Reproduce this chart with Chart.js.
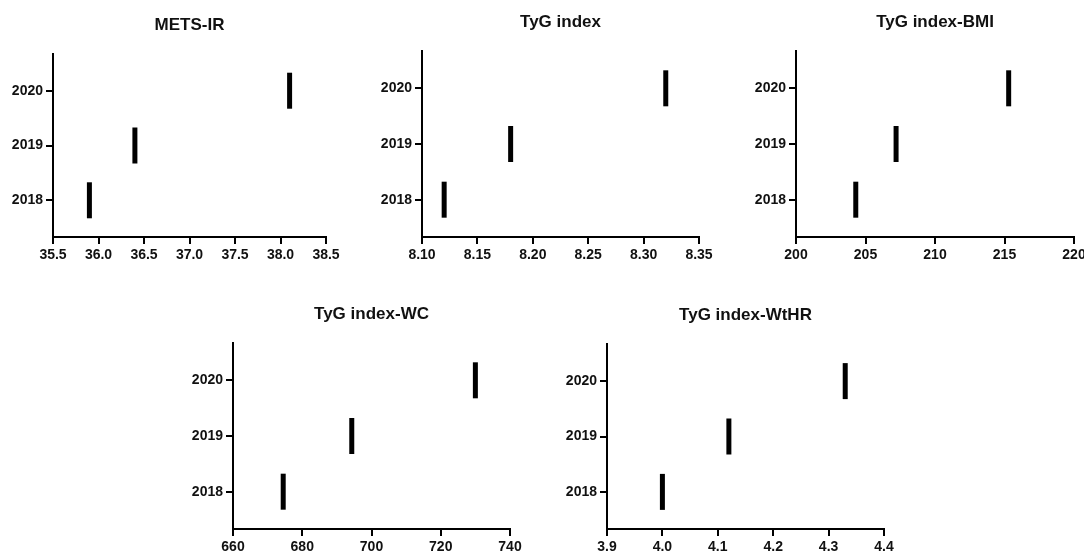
<!DOCTYPE html>
<html>
<head>
<meta charset="utf-8">
<script src="https://cdn.jsdelivr.net/npm/chart.js@4"></script>
<style>
  html, body { margin: 0; padding: 0; background: #fff; }
  body { width: 1084px; height: 554px; position: relative; overflow: hidden; }
  canvas { position: absolute; }
</style>
</head>
<body>
<canvas id="c1"></canvas>
<canvas id="c2"></canvas>
<canvas id="c3"></canvas>
<canvas id="c4"></canvas>
<canvas id="c5"></canvas>
<script>
// data
const years = [2018, 2019, 2020];

const metsIR = [35.9, 36.4, 38.1];
const tygIndex = [8.12, 8.18, 8.32];
const tygBMI = [204.3, 207.2, 215.3];
const tygWC = [674.5, 694.3, 730];
const tygWtHR = [4.0, 4.12, 4.33];

const metsIRTicks = [35.5, 36.0, 36.5, 37.0, 37.5, 38.0, 38.5];
const tygIndexTicks = [8.10, 8.15, 8.20, 8.25, 8.30, 8.35];
const tygBMITicks = [200, 205, 210, 215, 220];
const tygWCTicks = [660, 680, 700, 720, 740];
const tygWtHRTicks = [3.9, 4.0, 4.1, 4.2, 4.3, 4.4];

// axis box of each panel: left, right, top, bottom (page px)
const panels = [
  { id: 'c1', title: 'METS-IR', values: metsIR, ticks: metsIRTicks, dec: 1, box: [53, 326, 54, 237] },
  { id: 'c2', title: 'TyG index', values: tygIndex, ticks: tygIndexTicks, dec: 2, box: [422, 699, 51, 237] },
  { id: 'c3', title: 'TyG index-BMI', values: tygBMI, ticks: tygBMITicks, dec: 0, box: [796, 1074, 51, 237] },
  { id: 'c4', title: 'TyG index-WC', values: tygWC, ticks: tygWCTicks, dec: 0, box: [233, 510, 343, 529] },
  { id: 'c5', title: 'TyG index-WtHR', values: tygWtHR, ticks: tygWtHRTicks, dec: 1, box: [607, 884, 344, 529] },
];

const FONT = '"Liberation Sans", Arial, Helvetica, sans-serif';
const YW = 55, XH = 30, TOP = 55, RIGHT = 30;

const panelTitle = {
  id: 'panelTitle',
  afterDraw(chart, args, opts) {
    const { ctx, chartArea } = chart;
    ctx.save();
    ctx.font = 'bold 17px ' + FONT;
    ctx.fillStyle = '#111';
    ctx.textAlign = 'center';
    ctx.textBaseline = 'middle';
    ctx.fillText(opts.text, (chartArea.left + chartArea.right) / 2, chartArea.top - 29);
    ctx.restore();
  }
};

panels.forEach(p => {
  const [l, r, t, b] = p.box;
  const canvas = document.getElementById(p.id);
  canvas.width = (r - l) + YW + RIGHT;
  canvas.height = (b - t) + TOP + XH;
  canvas.style.left = (l - YW) + 'px';
  canvas.style.top = (t - TOP) + 'px';

  new Chart(canvas, {
    type: 'scatter',
    data: {
      datasets: [{
        data: years.map((y, i) => ({ x: p.values[i], y: y })),
        pointStyle: 'line',
        rotation: 90,
        radius: 18,
        borderWidth: 5,
        borderColor: '#000',
        backgroundColor: '#000',
      }]
    },
    options: {
      responsive: false,
      animation: false,
      layout: { padding: { left: 0, right: RIGHT, top: TOP, bottom: 0 } },
      plugins: {
        legend: { display: false },
        tooltip: { enabled: false },
        panelTitle: { text: p.title },
      },
      scales: {
        x: {
          type: 'linear',
          min: p.ticks[0],
          max: p.ticks[p.ticks.length - 1],
          afterBuildTicks: s => { s.ticks = p.ticks.map(v => ({ value: v })); },
          afterFit: s => { s.height = XH; },
          grid: { drawOnChartArea: false, drawTicks: true, tickLength: 7, color: '#000', lineWidth: 2 },
          border: { color: '#000', width: 2 },
          ticks: {
            color: '#111',
            padding: 3,
            maxRotation: 0,
            font: { family: FONT, size: 14, weight: 'bold' },
            callback: v => Number(v).toFixed(p.dec),
          },
        },
        y: {
          type: 'linear',
          min: 2017.33,
          max: 2020.67,
          afterBuildTicks: s => { s.ticks = years.map(v => ({ value: v })); },
          afterFit: s => { s.width = YW; },
          grid: { drawOnChartArea: false, drawTicks: true, tickLength: 7, color: '#000', lineWidth: 2 },
          border: { color: '#000', width: 2 },
          ticks: {
            color: '#111',
            padding: 3,
            font: { family: FONT, size: 14, weight: 'bold' },
            callback: v => String(v),
          },
        },
      },
    },
    plugins: [panelTitle],
  });
});
</script>
</body>
</html>
